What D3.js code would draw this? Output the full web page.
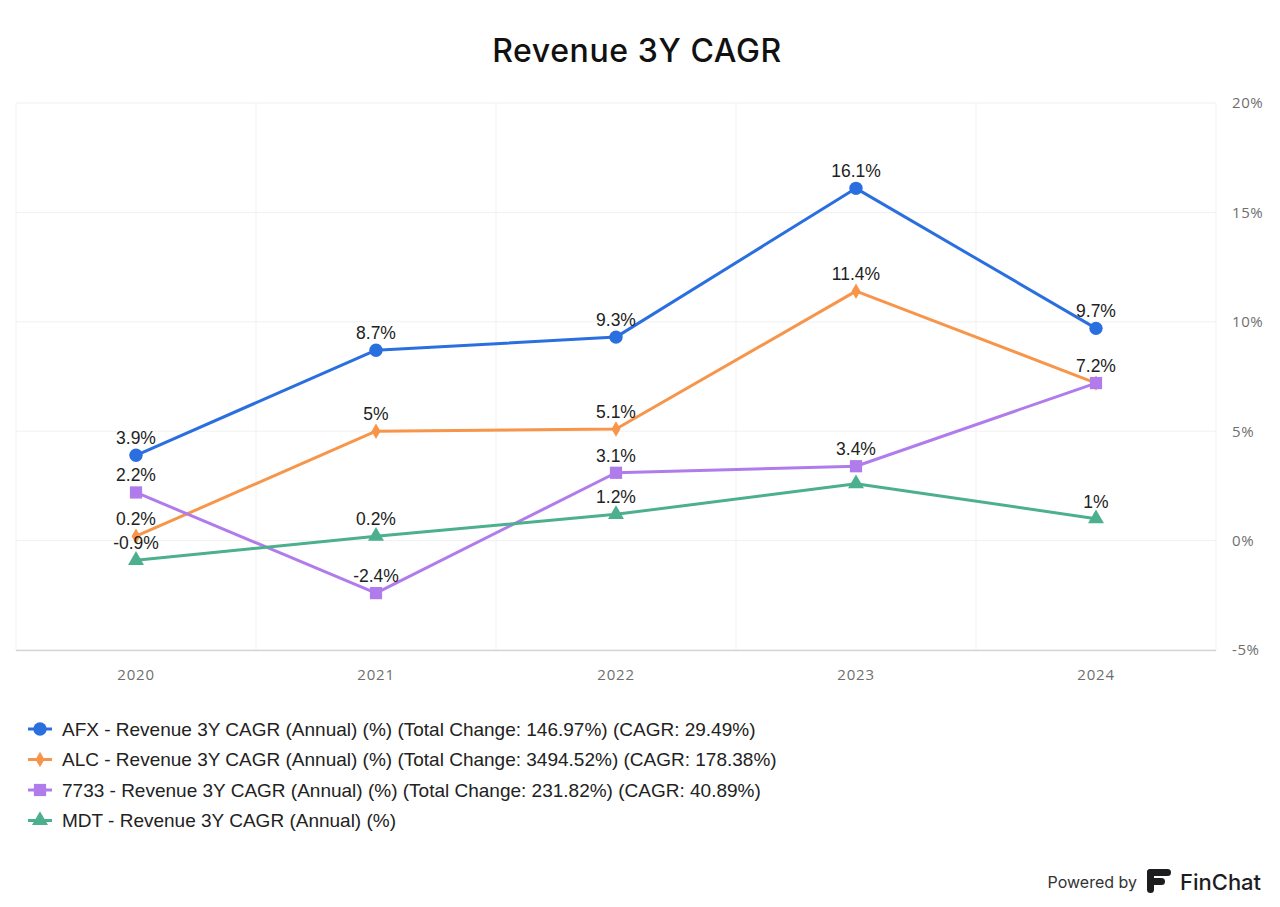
<!DOCTYPE html>
<html><head><meta charset="utf-8">
<script src="https://cdn.jsdelivr.net/npm/d3@7"></script>
<style>body{margin:0;background:#fff;}svg{display:block;}</style>
</head><body>
<svg id="c" width="1280" height="907"></svg>
<script>
const years = ["2020","2021","2022","2023","2024"];
const afx = [3.9, 8.7, 9.3, 16.1, 9.7];
const alc = [0.2, 5.0, 5.1, 11.4, 7.2];
const s7733 = [2.2, -2.4, 3.1, 3.4, 7.2];
const mdt = [-0.9, 0.2, 1.2, 2.6, 1.0];
const yTicks = [-5, 0, 5, 10, 15, 20];
const seriesNames = ["AFX","ALC","7733","MDT"];
const legendLabels = [
  "AFX - Revenue 3Y CAGR (Annual) (%) (Total Change: 146.97%) (CAGR: 29.49%)",
  "ALC - Revenue 3Y CAGR (Annual) (%) (Total Change: 3494.52%) (CAGR: 178.38%)",
  "7733 - Revenue 3Y CAGR (Annual) (%) (Total Change: 231.82%) (CAGR: 40.89%)",
  "MDT - Revenue 3Y CAGR (Annual) (%)"
];
// labels hidden due to overlap: [seriesIndex, pointIndex]
const hiddenLabels = [[1,4],[3,3]];

const colors = ["#2a6fe0","#f7964a","#b07ceb","#4caf8e"];
const shapes = [d3.symbolCircle, d3.symbolDiamond, d3.symbolSquare, d3.symbolTriangle];
const sizes = [140, 70, 150, 110];
const series = [afx, alc, s7733, mdt];

const svg = d3.select("#c");
const L = 16, R = 1216, T = 103, B = 650;
const x = d3.scaleBand().domain(years).range([L, R]);
const y = d3.scaleLinear().domain([-5, 20]).range([B, T]);

// title
svg.append("text").attr("x", 637).attr("y", 62).attr("text-anchor","middle")
  .attr("font-family","Inter, 'DejaVu Sans', sans-serif").attr("font-size", 32).attr("font-weight", 500)
  .attr("letter-spacing", 0.6).attr("fill","#111").text("Revenue 3Y CAGR");

// horizontal grid
svg.append("g").selectAll("line").data(yTicks).join("line")
  .attr("x1", L).attr("x2", R).attr("y1", d => y(d)).attr("y2", d => y(d))
  .attr("stroke", "#f1f1f1").attr("stroke-width", 1);
// vertical grid at band edges
const edges = years.map(d => x(d)).concat([R]);
svg.append("g").selectAll("line").data(edges).join("line")
  .attr("x1", d => d).attr("x2", d => d).attr("y1", T).attr("y2", B)
  .attr("stroke", "#f1f1f1").attr("stroke-width", 1);
// bottom axis line
svg.append("line").attr("x1", L).attr("x2", R).attr("y1", B + 0.5).attr("y2", B + 0.5)
  .attr("stroke", "#d6d6d6").attr("stroke-width", 1.5);

// right axis
const yAxis = d3.axisRight(y).tickValues(yTicks).tickFormat(d => String(d) + "%").tickSize(0).tickPadding(16);
const ya = svg.append("g").attr("transform", `translate(${R},0)`).call(yAxis);
ya.select(".domain").remove();
ya.selectAll("text").attr("font-family","'Open Sans', Lato, sans-serif").attr("font-size", 15)
  .attr("letter-spacing", 0.6).attr("fill","#6f6f6f");

// bottom axis
const xAxis = d3.axisBottom(x).tickSize(0).tickPadding(19);
const xa = svg.append("g").attr("transform", `translate(0,${B})`).call(xAxis);
xa.select(".domain").remove();
xa.selectAll("text").attr("font-family","'Open Sans', Lato, sans-serif").attr("font-size", 15)
  .attr("letter-spacing", 0.8).attr("fill","#6f6f6f");

const cx = d => x(d) + x.bandwidth() / 2;
const line = d3.line().x((d, i) => cx(years[i])).y(d => y(d));

series.forEach((vals, si) => {
  const g = svg.append("g");
  g.append("path").datum(vals).attr("d", line).attr("fill","none")
    .attr("stroke", colors[si]).attr("stroke-width", 3).attr("stroke-linejoin","round");
  g.selectAll("path.m").data(vals).join("path").attr("class","m")
    .attr("transform", (d, i) => `translate(${cx(years[i])},${y(d)})`)
    .attr("d", d3.symbol().type(shapes[si]).size(sizes[si]))
    .attr("fill", colors[si]);
});
// labels
series.forEach((vals, si) => {
  const pts = vals.map((v, i) => ({v, i}))
    .filter(p => !hiddenLabels.some(h => h[0] === si && h[1] === p.i));
  svg.append("g").selectAll("text").data(pts).join("text")
    .attr("x", p => cx(years[p.i])).attr("y", p => y(p.v) - 11)
    .attr("text-anchor","middle").attr("font-family","'Liberation Sans', Arial, sans-serif")
    .attr("font-size", 17.5).attr("fill","#222")
    .text(p => String(p.v) + "%");
});

// legend
const lg = svg.append("g");
legendLabels.forEach((t, i) => {
  const yy = 729 + i * 30.5;
  lg.append("line").attr("x1", 28).attr("x2", 52).attr("y1", yy).attr("y2", yy)
    .attr("stroke", colors[i]).attr("stroke-width", 3);
  lg.append("path").attr("transform", `translate(40,${yy})`)
    .attr("d", d3.symbol().type(shapes[i]).size(sizes[i])).attr("fill", colors[i]);
  lg.append("text").attr("x", 62).attr("y", yy + 6.5).attr("font-family","'Liberation Sans', Arial, sans-serif")
    .attr("font-size", 19).attr("fill","#222").text(t);
});

// footer
svg.append("text").attr("x", 1137).attr("y", 888).attr("text-anchor","end")
  .attr("font-family","Inter, 'Open Sans', sans-serif").attr("font-size", 16).attr("fill","#333").text("Powered by");
const logo = svg.append("g").attr("transform","translate(1147,869)").attr("fill","#1d1d1f");
logo.append("rect").attr("x",0).attr("y",0).attr("width",24).attr("height",7).attr("rx",3.5);
logo.append("rect").attr("x",0).attr("y",0).attr("width",7).attr("height",24).attr("rx",3.5);
logo.append("rect").attr("x",0).attr("y",9).attr("width",18).attr("height",7).attr("rx",3.5);
svg.append("text").attr("x", 1180).attr("y", 890)
  .attr("font-family","Inter, 'Open Sans', sans-serif").attr("font-size", 22).attr("font-weight", 500).attr("fill","#1d1d1f").text("FinChat");
</script>
</body></html>
